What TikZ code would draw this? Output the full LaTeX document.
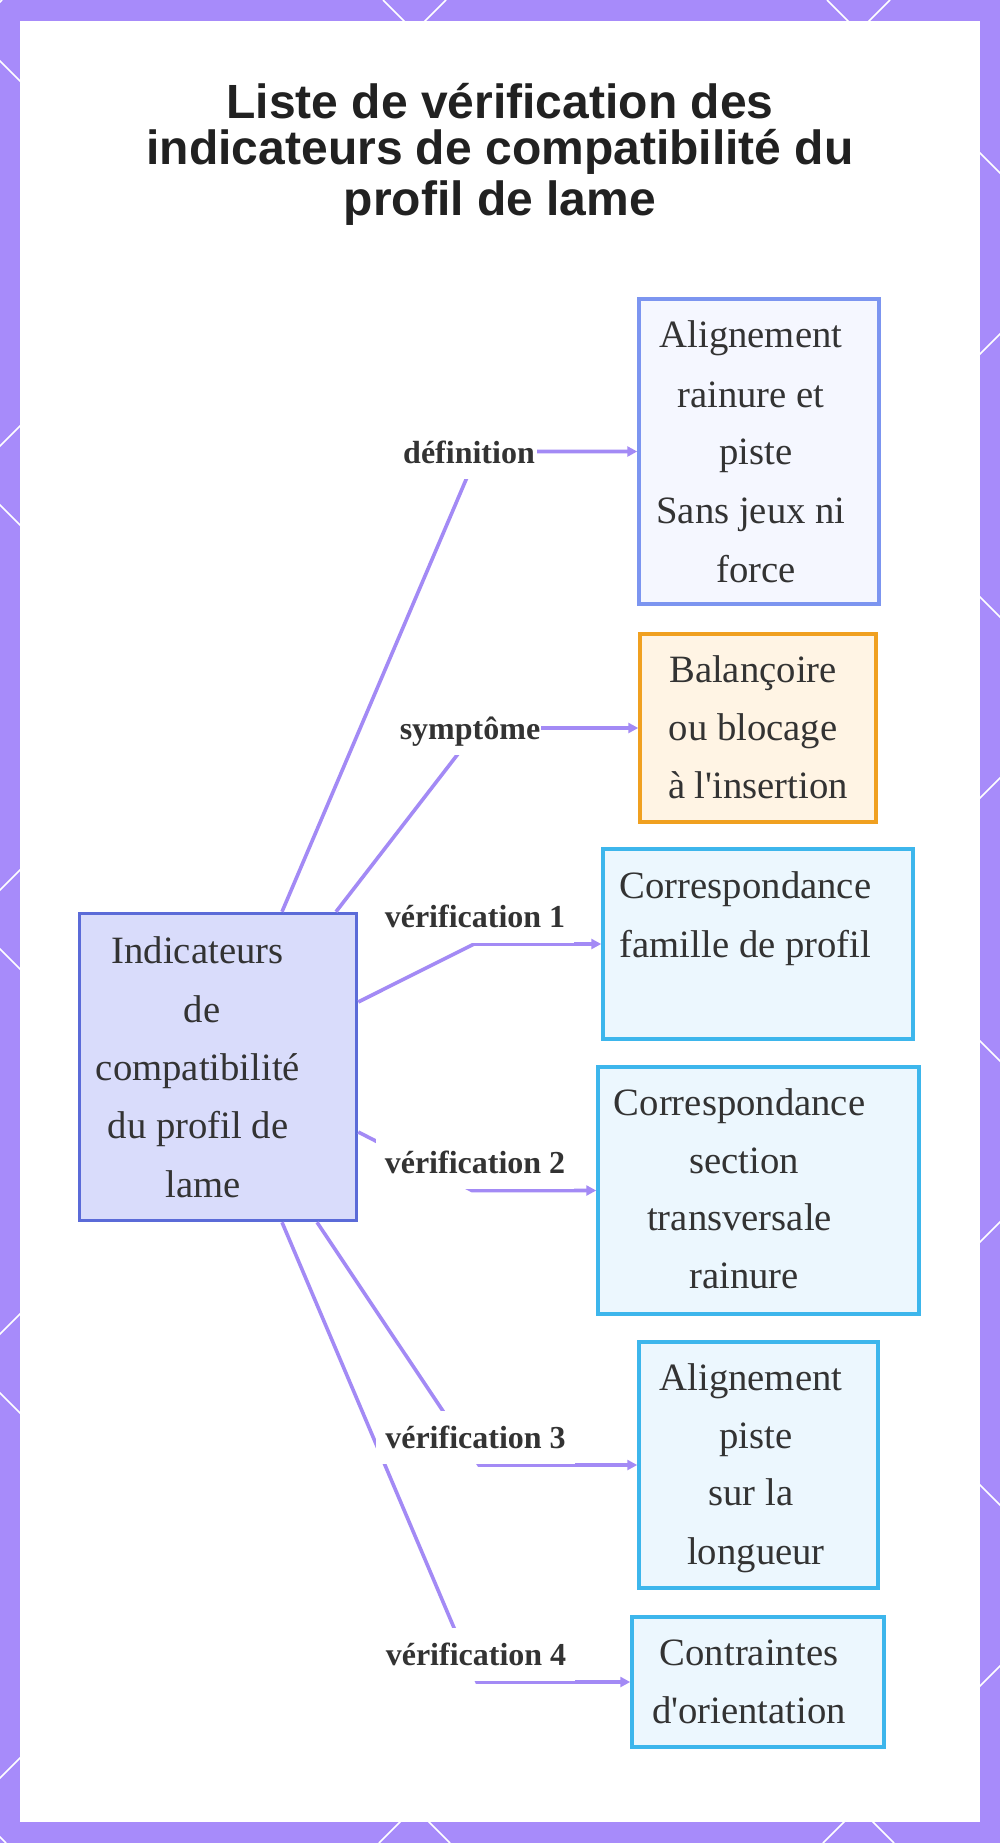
\documentclass[tikz,border=0pt]{standalone}
\usepackage{fontspec}
\newfontfamily\serif{Liberation Serif}
\newfontfamily\titlefont{Liberation Sans}
\usetikzlibrary{arrows.meta,calc}
\definecolor{frame}{HTML}{A78BFA}
\definecolor{edgec}{HTML}{A38AF5}
\definecolor{txtc}{HTML}{333333}
\definecolor{cfill}{HTML}{D9DCFB}
\definecolor{cdraw}{HTML}{5B6BD8}
\definecolor{afill}{HTML}{F5F7FF}
\definecolor{adraw}{HTML}{7C95F0}
\definecolor{ofill}{HTML}{FFF4E4}
\definecolor{odraw}{HTML}{F0A020}
\definecolor{sfill}{HTML}{ECF7FE}
\definecolor{sdraw}{HTML}{3DB6EC}
\begin{document}
\begin{tikzpicture}[x=1pt,y=-1pt,
  boxc/.style={draw=cdraw,fill=cfill,line width=3.5pt,inner sep=0pt},
  boxa/.style={draw=adraw,fill=afill,line width=3.5pt,inner sep=0pt},
  boxo/.style={draw=odraw,fill=ofill,line width=3.5pt,inner sep=0pt},
  boxs/.style={draw=sdraw,fill=sfill,line width=3.5pt,inner sep=0pt},
  txt/.style={anchor=base,inner sep=0pt,text=txtc,font=\serif\fontsize{38.7}{46}\selectfont},
  lbl/.style={anchor=base,fill=white,text=txtc,inner xsep=9pt,inner ysep=5pt,text height=32pt,text depth=11pt,font=\serif\bfseries\fontsize{32}{38}\selectfont},
  ttl/.style={anchor=base,inner sep=0pt,text=black!87,font=\titlefont\bfseries\fontsize{48}{54}\selectfont},
  edge/.style={draw=edgec,line width=3.6pt},
  arr/.style={edge,-{Triangle[length=10pt,width=10pt]}}
]
\useasboundingbox (0,0) rectangle (1000,1843);
% frame
\fill[frame] (0,0) rectangle (1000,1843);
\begin{scope}
\clip (0,0) rectangle (1000,1843);
\foreach \k in {-5,...,2}{
  \draw[white,line width=1.6pt] ({383+444*\k},0) -- ({383+444*\k+1843},1843);
}
\foreach \k in {0,...,6}{
  \draw[white,line width=1.6pt] ({2+444*\k},0) -- ({2+444*\k-1843},1843);
}
\end{scope}
\fill[white] (20,21) rectangle (980,1822);

% title
\node[ttl] (t1) at (500,119) {Liste de vérification des};
\node[ttl] (t2) at (500,165) {indicateurs de compatibilité du};
\node[ttl] (t3) at (500,215.5) {profil de lame};

% boxes
\node[boxc,minimum width=277pt,minimum height=307pt] (c) at (218,1067) {};
\node[boxa,minimum width=240pt,minimum height=305pt] (b1) at (759,451.5) {};
\node[boxo,minimum width=236pt,minimum height=188pt] (b2) at (758,728) {};
\node[boxs,minimum width=310pt,minimum height=190pt] (b3) at (758,944) {};
\node[boxs,minimum width=321pt,minimum height=247pt] (b4) at (758.5,1190.5) {};
\node[boxs,minimum width=239pt,minimum height=246pt] (b5) at (758.5,1465) {};
\node[boxs,minimum width=252pt,minimum height=130pt] (b6) at (758,1682) {};

% box texts
\node[txt] (c1) at (197.5,963) {Indicateurs};
\node[txt] (c2) at (202,1022) {de};
\node[txt] (c3) at (198,1080) {compatibilité};
\node[txt] (c4) at (198,1138) {du profil de};
\node[txt] (c5) at (203,1197) {lame};

\node[txt] (a1) at (751,348) {Alignement};
\node[txt] (a2) at (751,407) {rainure et};
\node[txt] (a3) at (756,464) {piste};
\node[txt] (a4) at (751,523) {Sans jeux ni};
\node[txt] (a5) at (756,582) {force};

\node[txt] (o1) at (753,682) {Balançoire};
\node[txt] (o2) at (753,740) {ou blocage};
\node[txt] (o3) at (758,798) {à l'insertion};

\node[txt] (s1) at (745.5,898) {Correspondance};
\node[txt] (s2) at (745.5,957) {famille de profil};

\node[txt] (r1) at (739.6,1115) {Correspondance};
\node[txt] (r2) at (744,1173) {section};
\node[txt] (r3) at (739.6,1230) {transversale};
\node[txt] (r4) at (744,1288) {rainure};

\node[txt] (p1) at (751,1390) {Alignement};
\node[txt] (p2) at (756,1448) {piste};
\node[txt] (p3) at (751,1505) {sur la};
\node[txt] (p4) at (756,1564) {longueur};

\node[txt] (q1) at (749,1665) {Contraintes};
\node[txt] (q2) at (749,1723) {d'orientation};

% connectors
\coordinate (k1) at (478,451.5);
\coordinate (k2) at (478,728);
\coordinate (k3) at (474,944);
\coordinate (k4) at (472,1190.5);
\coordinate (k5) at (479,1465);
\coordinate (k6) at (477,1682);
\draw[arr] ([xshift=64pt]c.north) -- (k1) -- (k1 -| b1.west);
\draw[arr] ([xshift=118pt]c.north) -- (k2) -- (k2 -| b2.west);
\draw[arr] ([yshift=65pt]c.east) -- (k3) -- (k3 -| b3.west);
\draw[arr] ([yshift=-65pt]c.east) -- (k4) -- (k4 -| b4.west);
\draw[arr] ([xshift=99pt]c.south) -- (k5) -- (k5 -| b5.west);
\draw[arr] ([xshift=64pt]c.south) -- (k6) -- (k6 -| b6.west);

% labels
\node[lbl,inner xsep=2pt] (l1) at (469,463) {définition};
\node[lbl,inner xsep=1pt] (l2) at (470,739) {symptôme};
\node[lbl] (l3) at (475,927) {vérification 1};
\node[lbl] (l4) at (475,1173) {vérification 2};
\node[lbl] (l5) at (475.5,1448) {vérification 3};
\node[lbl] (l6) at (476,1665) {vérification 4};
\end{tikzpicture}
\end{document}
